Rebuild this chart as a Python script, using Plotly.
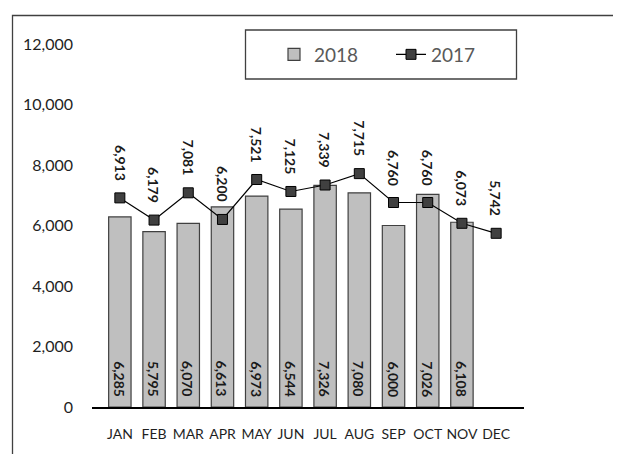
import plotly.graph_objects as go

months = ["JAN", "FEB", "MAR", "APR", "MAY", "JUN", "JUL", "AUG", "SEP", "OCT", "NOV", "DEC"]
values_2018 = [6285, 5795, 6070, 6613, 6973, 6544, 7326, 7080, 6000, 7026, 6108]
values_2017 = [6913, 6179, 7081, 6200, 7521, 7125, 7339, 7715, 6760, 6760, 6073, 5742]
y_ticks = [0, 2000, 4000, 6000, 8000, 10000, 12000]

FONT = "Lato"
W, H = 621, 454
L, R, T, B = 84, 105, 36, 55
PW, PH = W - L - R, H - T - B


def px(x):
    return (x - L) / PW


def py(y):
    return (H - B - y) / PH


fig = go.Figure()
fig.add_trace(go.Bar(
    x=months[:len(values_2018)], y=values_2018, name="2018",
    marker=dict(color="#bfbfbf", line=dict(color="#404040", width=1.2)),
))
fig.add_trace(go.Scatter(
    x=months, y=values_2017, name="2017", mode="lines+markers",
    line=dict(color="#000000", width=1.2),
    marker=dict(symbol="square", size=10, color="#404040", line=dict(color="#000000", width=1)),
))

ann = []
for m, v in zip(months, values_2018):
    ann.append(dict(x=m, y=0, text=f"{v:,}", showarrow=False, textangle=90,
                    yanchor="bottom", xanchor="center", yshift=8,
                    font=dict(family=FONT, size=14, color="#1a1a1a", weight="bold")))
for m, v in zip(months, values_2017):
    ann.append(dict(x=m, y=v, text=f"{v:,}", showarrow=False, textangle=90,
                    yanchor="bottom", xanchor="center", yshift=15,
                    font=dict(family=FONT, size=14, color="#1a1a1a", weight="bold")))

shapes = [
    dict(type="rect", xref="paper", yref="paper", x0=px(4.5), x1=px(613), y0=py(480), y1=py(7.5),
         line=dict(color="#404040", width=1.3), fillcolor="rgba(0,0,0,0)", layer="below"),
    dict(type="rect", xref="paper", yref="paper", x0=px(237.5), x1=px(508.5), y0=py(71), y1=py(22),
         line=dict(color="#404040", width=1.3), fillcolor="rgba(0,0,0,0)"),
]

fig.update_layout(
    width=W, height=H,
    margin=dict(l=L, r=R, t=T, b=B, autoexpand=False),
    paper_bgcolor="white", plot_bgcolor="white",
    font=dict(family=FONT, color="#1f1f1f"),
    bargap=0.345,
    showlegend=True,
    legend=dict(orientation="h", x=px(266), xanchor="left", y=py(46.5), yanchor="middle",
                bgcolor="rgba(0,0,0,0)", borderwidth=0,
                font=dict(family=FONT, size=19, color="#595959"),
                entrywidth=72, entrywidthmode="pixels"),
    annotations=ann,
    shapes=shapes,
    xaxis=dict(showline=True, linecolor="#000000", linewidth=2, showgrid=False,
               ticks="", tickangle=0, tickfont=dict(family=FONT, size=14, color="#1f1f1f"),
               ticklabelstandoff=13, fixedrange=True),
    yaxis=dict(range=[0, 12000], tickvals=y_ticks, tickformat=",", showgrid=False,
               showline=False, zeroline=False, ticks="",
               tickfont=dict(family=FONT, size=16, color="#1f1f1f"),
               ticklabelstandoff=18, fixedrange=True),
)

fig.write_html("out.html")
